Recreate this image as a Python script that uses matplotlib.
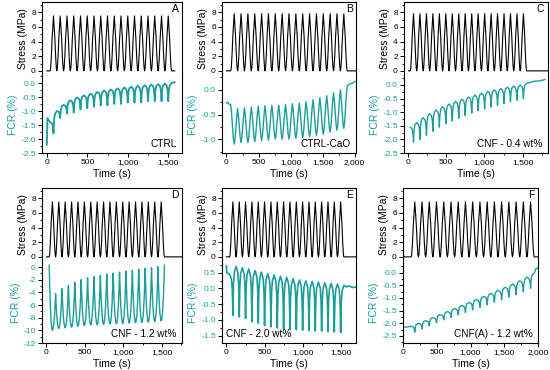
import numpy as np
import matplotlib
matplotlib.use("Agg")
from matplotlib import pyplot as plt
from matplotlib.ticker import MultipleLocator, StrMethodFormatter

plt.rcParams['font.family'] = ['Liberation Sans', 'DejaVu Sans']
plt.rcParams['axes.unicode_minus'] = False

teal = "#1a9e9a"

# ---- panel A: CTRL
a_peak_t = [82, 165, 249, 332, 416, 499, 583, 666, 749, 833, 916, 1000, 1083, 1166, 1250, 1333, 1417, 1500]
a_stress_max = 7.5
a_stress_span = [0, 1580]
a_fcr_top = [-1.4, -1.0, -0.78, -0.62, -0.52, -0.44, -0.38, -0.32, -0.27, -0.23, -0.19, -0.16,
             -0.13, -0.1, -0.08, -0.06, -0.04, -0.02, 0.0]
a_fcr_dip = [-1.8, -1.25, -1.1, -1.05, -0.95, -0.9, -0.85, -0.8, -0.8, -0.75, -0.75, -0.7,
             -0.7, -0.7, -0.65, -0.65, -0.65, -0.65]
a_fcr_start = ([0, 8], [-2.2, -1.25])
a_fcr_end = ([1565, 1580], [0.02, 0.03])

# ---- panel B: CTRL-CaO
b_peak_t = [120, 227, 334, 441, 548, 654, 761, 868, 975, 1082, 1189, 1296, 1403, 1510, 1616, 1723, 1830]
b_stress_max = 7.8
b_stress_span = [0, 2010]
b_fcr_top = [-0.3, -0.38, -0.37, -0.35, -0.33, -0.32, -0.31, -0.31, -0.3, -0.28, -0.27, -0.24,
             -0.2, -0.16, -0.12, -0.06, 0.0, 0.08]
b_fcr_dip = [-1.1, -1.07, -1.07, -1.05, -1.03, -1.02, -1.0, -1.0, -1.0, -0.98, -0.97, -0.95,
             -0.92, -0.9, -0.86, -0.82, -0.78]
b_fcr_start = ([0, 20, 40], [-0.27, -0.25, -0.29])
b_fcr_end = ([1920, 1960, 2005], [0.12, 0.13, 0.17])

# ---- panel C: CNF - 0.4 wt%
c_peak_t = [74, 158, 243, 327, 412, 496, 580, 665, 749, 834, 918, 1003, 1087, 1171, 1256, 1340, 1425, 1509]
c_stress_max = 7.8
c_stress_span = [10, 1830]
c_fcr_top = [-1.55, -1.38, -1.2, -1.05, -0.92, -0.8, -0.7, -0.6, -0.52, -0.44, -0.37, -0.3,
             -0.24, -0.18, -0.13, -0.08, -0.04, 0.0, 0.06]
c_fcr_dip = [-2.1, -2.0, -1.85, -1.7, -1.55, -1.42, -1.32, -1.22, -1.12, -1.03, -0.95, -0.88,
             -0.8, -0.74, -0.68, -0.62, -0.56, -0.5]
c_fcr_start = ([], [])
c_fcr_end = ([1600, 1660, 1720, 1790], [0.1, 0.14, 0.15, 0.2])

# ---- panel D: CNF - 1.2 wt%
d_peak_t = [78, 161, 244, 327, 410, 493, 576, 659, 742, 825, 908, 991, 1074, 1157, 1240, 1323, 1406, 1490]
d_stress_max = 7.5
d_stress_span = [0, 1760]
d_fcr_top = [0.3, -4.2, -3.4, -2.9, -2.4, -2.0, -1.7, -1.5, -1.3, -1.1, -0.95, -0.8, -0.65,
             -0.5, -0.35, -0.2, -0.1, 0.05, 0.3]
d_fcr_dip = [-10.0, -9.7, -9.6, -9.5, -9.35, -9.25, -9.15, -9.1, -9.05, -9.0, -8.95, -8.9,
             -8.85, -8.8, -8.75, -8.7, -8.6, -8.5]
d_fcr_start = ([], [])
d_fcr_end = ([], [])

# ---- panel E: CNF - 2.0 wt%
e_peak_t = [85, 168, 250, 333, 416, 498, 581, 664, 746, 829, 912, 994, 1077, 1159, 1242, 1325, 1407, 1490]
e_stress_max = 7.5
e_stress_span = [0, 1700]
e_fcr_top = [0.45, 0.7, 0.66, 0.62, 0.57, 0.52, 0.47, 0.43, 0.39, 0.35, 0.31, 0.27, 0.24,
             0.22, 0.2, 0.18, 0.16, 0.14, 0.1]
e_fcr_dip = [-0.85, -0.9, -0.95, -1.05, -1.1, -1.18, -1.22, -1.25, -1.28, -1.3, -1.3, -1.32,
             -1.33, -1.35, -1.35, -1.37, -1.38, -1.4]
e_fcr_start = ([0, 6], [0.72, 0.5])
e_fcr_end = ([1560, 1600, 1650, 1700], [0.05, 0.08, 0.03, 0.05])

# ---- panel F: CNF(A) - 1.2 wt%
f_peak_t = [175, 282, 389, 496, 604, 711, 818, 925, 1032, 1140, 1247, 1354, 1461, 1568, 1676, 1783, 1890]
f_stress_max = 7.5
f_stress_span = [0, 2000]
f_fcr_top = [-2.12, -2.0, -1.9, -1.78, -1.66, -1.54, -1.42, -1.3, -1.18, -1.06, -0.94, -0.82,
             -0.7, -0.58, -0.45, -0.32, -0.18, -0.02]
f_fcr_dip = [-2.35, -2.22, -2.1, -1.98, -1.87, -1.77, -1.67, -1.57, -1.47, -1.37, -1.27, -1.17,
             -1.07, -0.97, -0.87, -0.76, -0.62]
f_fcr_start = ([0, 60], [-2.15, -2.15])
f_fcr_end = ([1970, 2000], [0.15, 0.2])

# cycle shapes (fraction of half cycle, fraction of swing)
stress_shape = ([0, 0.15, 0.35, 0.6, 1.0], [0, 0.05, 0.25, 0.6, 1.0])
sharp_shape = ([0, 0.55, 0.8, 0.93, 1.0], [0, 0.12, 0.35, 0.7, 1.0])
smooth_shape = ([0, 0.25, 0.5, 0.75, 1.0], [0, 0.22, 0.55, 0.85, 1.0])
round_shape = ([0, 0.15, 0.35, 0.6, 0.85, 1.0], [0, 0.3, 0.62, 0.86, 0.98, 1.0])


def valleys_of(peaks):
    p = np.array(peaks, dtype=float)
    mid = (p[1:] + p[:-1]) / 2
    first = p[0] - (p[1] - p[0]) / 2
    last = p[-1] + (p[-1] - p[-2]) / 2
    return np.concatenate([[first], mid, [last]])


def cycles(peaks, base, ext, shape):
    f, d = shape
    val = valleys_of(peaks)
    ts, ys = [], []
    for i, tp in enumerate(peaks):
        tl, tr = val[i], val[i + 1]
        for fj, dj in zip(f, d):
            ts.append(tl + fj * (tp - tl))
            ys.append(base[i] + dj * (ext[i] - base[i]))
        for fj, dj in zip(f[::-1][1:], d[::-1][1:]):
            ts.append(tr - fj * (tr - tp))
            ys.append(base[i + 1] + dj * (ext[i] - base[i + 1]))
    return ts, ys


panels = [
    dict(peaks=a_peak_t, smax=a_stress_max, span=a_stress_span, top=a_fcr_top, dip=a_fcr_dip,
         start=a_fcr_start, end=a_fcr_end, shape=sharp_shape, letter="A", name="CTRL",
         pos=(42, 182, 2, 76, 153), xlim=(-60, 1670), ylim=(-2.5, 0.25), maj=0.5, lw=1.3,
         xmaj=500, left=False),
    dict(peaks=b_peak_t, smax=b_stress_max, span=b_stress_span, top=b_fcr_top, dip=b_fcr_dip,
         start=b_fcr_start, end=b_fcr_end, shape=smooth_shape, letter="B", name="CTRL-CaO",
         pos=(222, 356, 2, 76, 153), xlim=(-70, 2020), ylim=(-1.28, 0.28), maj=0.5, lw=1.0,
         xmaj=500, left=False),
    dict(peaks=c_peak_t, smax=c_stress_max, span=c_stress_span, top=c_fcr_top, dip=c_fcr_dip,
         start=c_fcr_start, end=c_fcr_end, shape=sharp_shape, letter="C", name="CNF - 0.4 wt%",
         pos=(404, 548, 2, 76, 153), xlim=(-50, 1830), ylim=(-2.5, 0.33), maj=0.5, lw=1.0,
         xmaj=500, left=False),
    dict(peaks=d_peak_t, smax=d_stress_max, span=d_stress_span, top=d_fcr_top, dip=d_fcr_dip,
         start=d_fcr_start, end=d_fcr_end, shape=round_shape, letter="D", name="CNF - 1.2 wt%",
         pos=(42, 182, 188, 262, 343), xlim=(-57, 1760), ylim=(-12, 0.8), maj=2, lw=1.0,
         xmaj=500, left=False),
    dict(peaks=e_peak_t, smax=e_stress_max, span=e_stress_span, top=e_fcr_top, dip=e_fcr_dip,
         start=e_fcr_start, end=e_fcr_end, shape=sharp_shape, letter="E", name="CNF - 2.0 wt%",
         pos=(222, 356, 188, 262, 343), xlim=(-57, 1690), ylim=(-1.73, 0.84), maj=0.5, lw=1.2,
         xmaj=500, left=True),
    dict(peaks=f_peak_t, smax=f_stress_max, span=f_stress_span, top=f_fcr_top, dip=f_fcr_dip,
         start=f_fcr_start, end=f_fcr_end, shape=sharp_shape, letter="F", name="CNF(A) - 1.2 wt%",
         pos=(403, 538, 188, 262, 343), xlim=(0, 2000), ylim=(-2.78, 0.42), maj=0.5, lw=1.0,
         xmaj=500, left=False),
]

W, H = 550, 370
fig = plt.figure(figsize=(5.5, 3.7), dpi=100)

for p in panels:
    x0, x1, ytop, ymid, ybot = p["pos"]
    ax_s = fig.add_axes([x0 / W, 1 - ymid / H, (x1 - x0) / W, (ymid - ytop) / H])
    ax_f = fig.add_axes([x0 / W, 1 - ybot / H, (x1 - x0) / W, (ybot - ymid) / H], sharex=ax_s)

    # stress
    n = len(p["peaks"])
    st, sy = cycles(p["peaks"], [0] * (n + 1), [p["smax"]] * n, stress_shape)
    st = [p["span"][0]] + st + [p["span"][1]]
    sy = [0] + sy + [0]
    ax_s.plot(st, sy, color="black", lw=0.8)

    # FCR
    ft, fy = cycles(p["peaks"], p["top"], p["dip"], p["shape"])
    ft = list(p["start"][0]) + ft + list(p["end"][0])
    fy = list(p["start"][1]) + fy + list(p["end"][1])
    ax_f.plot(ft, fy, color=teal, lw=p["lw"])

    ax_s.set_xlim(*p["xlim"])
    ax_s.set_ylim(-0.7, 9.4)
    ax_f.set_ylim(*p["ylim"])

    ax_s.spines["bottom"].set_visible(False)
    ax_f.spines["top"].set_visible(False)
    for ax in (ax_s, ax_f):
        for s in ax.spines.values():
            s.set_linewidth(0.8)
        ax.tick_params(which="major", direction="out", length=3, width=0.7, labelsize=6, pad=1.5)
        ax.tick_params(which="minor", direction="out", length=1.6, width=0.6)

    ax_s.tick_params(axis="x", which="both", bottom=False, labelbottom=False)
    ax_s.yaxis.set_major_locator(MultipleLocator(2))
    ax_s.yaxis.set_minor_locator(MultipleLocator(1))
    ax_s.set_ylabel("Stress (MPa)", fontsize=7.5, labelpad=2)

    ax_f.yaxis.set_major_locator(MultipleLocator(p["maj"]))
    ax_f.yaxis.set_minor_locator(MultipleLocator(p["maj"] / 2))
    if p["maj"] < 1:
        ax_f.yaxis.set_major_formatter(StrMethodFormatter("{x:.1f}"))
    ax_f.tick_params(axis="y", which="both", labelcolor=teal)
    ax_f.set_ylabel("FCR (%)", fontsize=7.5, color=teal, labelpad=2)
    ax_f.xaxis.set_major_locator(MultipleLocator(p["xmaj"]))
    ax_f.xaxis.set_minor_locator(MultipleLocator(p["xmaj"] / 2))
    ax_f.xaxis.set_major_formatter(StrMethodFormatter("{x:,.0f}"))
    ax_f.set_xlabel("Time (s)", fontsize=7.5, labelpad=2)

    ax_s.text(0.975, 0.97, p["letter"], transform=ax_s.transAxes, ha="right", va="top", fontsize=7.5)
    if p["left"]:
        ax_f.text(0.03, 0.05, p["name"], transform=ax_f.transAxes, ha="left", va="bottom", fontsize=7.2)
    else:
        ax_f.text(0.96, 0.05, p["name"], transform=ax_f.transAxes, ha="right", va="bottom", fontsize=7.2)

fig.savefig("out.png", dpi=100)
